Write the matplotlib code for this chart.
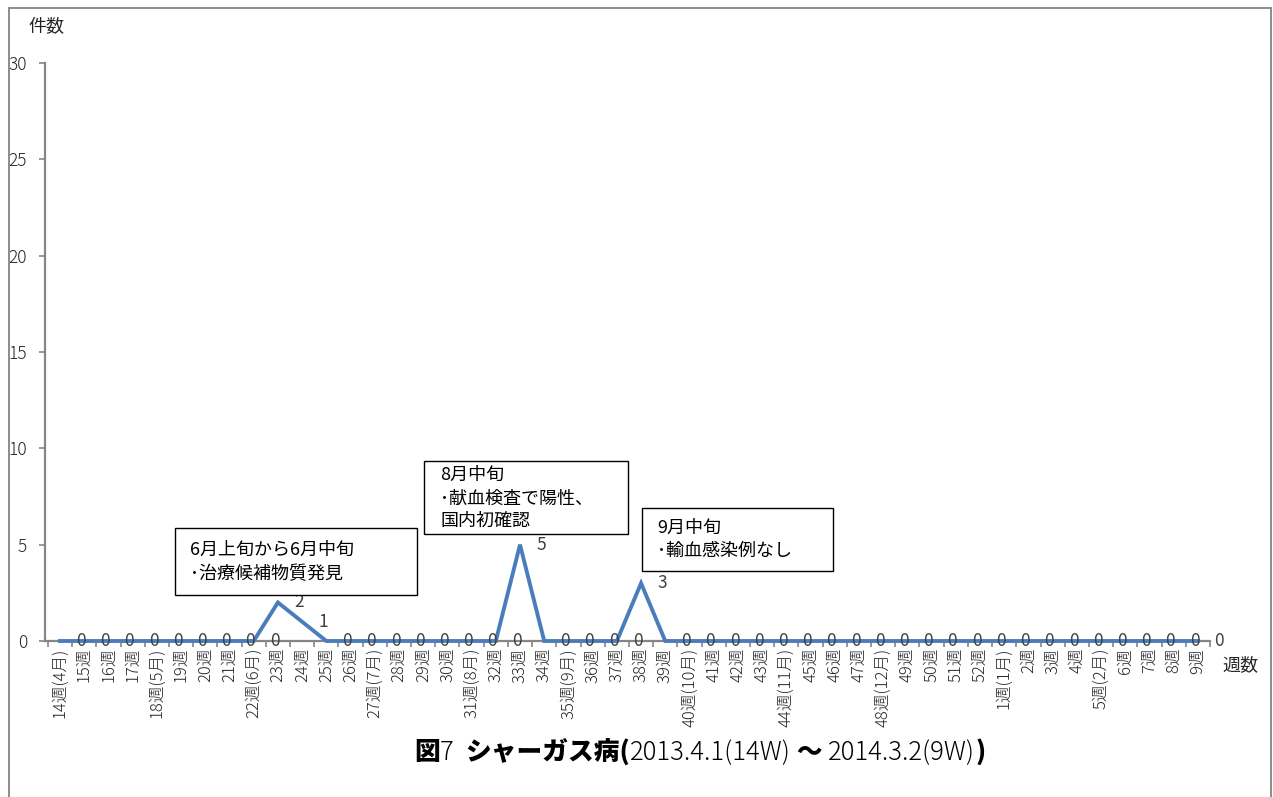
import matplotlib
matplotlib.use("Agg")
import matplotlib.pyplot as plt
from matplotlib.patches import Rectangle
from matplotlib.lines import Line2D
from matplotlib.offsetbox import TextArea, HPacker, AnnotationBbox

plt.rcParams['font.family'] = ['Noto Sans CJK JP', 'DejaVu Sans']

# Weekly counts, 2013 week 14 through 2014 week 9
weeks = ["14週(4月)", "15週", "16週", "17週", "18週(5月)", "19週", "20週", "21週",
         "22週(6月)", "23週", "24週", "25週", "26週", "27週(7月)", "28週", "29週",
         "30週", "31週(8月)", "32週", "33週", "34週", "35週(9月)", "36週", "37週",
         "38週", "39週", "40週(10月)", "41週", "42週", "43週", "44週(11月)", "45週",
         "46週", "47週", "48週(12月)", "49週", "50週", "51週", "52週", "1週(1月)",
         "2週", "3週", "4週", "5週(2月)", "6週", "7週", "8週", "9週"]
counts = [0, 0, 0, 0, 0, 0, 0, 0,
          0, 2, 1, 0, 0, 0, 0, 0,
          0, 0, 0, 5, 0, 0, 0, 0,
          3, 0, 0, 0, 0, 0, 0, 0,
          0, 0, 0, 0, 0, 0, 0, 0,
          0, 0, 0, 0, 0, 0, 0, 0]
y_ticks = [0, 5, 10, 15, 20, 25, 30]

notes = [
    ["6月上旬から6月中旬", "･治療候補物質発見"],
    ["8月中旬", "･献血検査で陽性、", "国内初確認"],
    ["9月中旬", "･輸血感染例なし"],
]

W, H = 1273, 797
fig = plt.figure(figsize=(W / 100, H / 100), dpi=100)
fig.patch.set_facecolor("white")


def fx(px):
    return px / W


def fy(py):
    return 1 - py / H


GRAY = "#8c8c8c"
TXT = "#262626"

# outer frame (left, top, right)
for xs, ys in [([9, 9], [8, H + 5]), ([9, 1271], [8, 8]), ([1271, 1271], [8, H + 5])]:
    fig.add_artist(Line2D([fx(x) for x in xs], [fy(y) for y in ys],
                          color=GRAY, lw=1.4, transform=fig.transFigure))

ax = fig.add_axes([fx(45), fy(641), fx(1210) - fx(45), fy(63) - fy(641)])
n = len(weeks)
x = list(range(n))
ax.plot(x, counts, color="#4a7ebb", lw=2.8, solid_joinstyle="miter", zorder=3, clip_on=False)

ax.set_xlim(-0.62, n - 0.5)
ax.set_ylim(0, 30)
for s in ["top", "right"]:
    ax.spines[s].set_visible(False)
for s in ["left", "bottom"]:
    ax.spines[s].set_color("#868686")
    ax.spines[s].set_linewidth(1.6)

ax.set_yticks(y_ticks)
ax.set_yticklabels([str(v) for v in y_ticks], fontsize=12.5, color=TXT, fontweight="light")
ax.tick_params(axis="y", direction="out", length=4, width=1.2, color="#868686", pad=9)

ax.set_xticks(x)
ax.set_xticklabels(weeks, rotation=90, fontsize=12, color=TXT, va="top", ha="center",
                   fontweight="light")
ax.tick_params(axis="x", which="major", length=0, pad=5)
ax.set_xticks([i + 0.5 for i in range(-1, n)], minor=True)
ax.tick_params(axis="x", which="minor", direction="out", length=4, width=1.2, color="#868686")

# value labels beside each point
for xi, v in zip(x, counts):
    ax.annotate(str(v), (xi, v), xytext=(15, 0), textcoords="offset points",
                ha="center", va="center", fontsize=12.5, color="#404040",
                annotation_clip=False, zorder=4)

# axis captions
fig.text(fx(46), fy(27), "件数", ha="center", va="center", fontsize=13, color=TXT)
fig.text(fx(1240), fy(665), "週数", ha="center", va="center", fontsize=13, color=TXT)

# note boxes
boxes = [
    ((175, 528, 417, 595), 190, [550, 574]),
    ((424, 461, 628, 534), 440, [475, 499, 521]),
    ((642, 508, 833, 571), 657, [528, 551]),
]
for (rect, tx, lys), lines in zip(boxes, notes):
    x0, y0, x1, y1 = rect
    fig.add_artist(Rectangle((fx(x0), fy(y1)), fx(x1) - fx(x0), fy(y0) - fy(y1),
                             facecolor="white", edgecolor="black", lw=1.0,
                             transform=fig.transFigure, zorder=5))
    for ly, line in zip(lys, lines):
        fig.text(fx(tx), fy(ly), line, ha="left", va="center", fontsize=13,
                 color="black", zorder=6)

# title with mixed weights
parts = [("図", "heavy"), ("7  ", "light"), ("シャーガス病(", "heavy"),
         ("2013.4.1(14W)", "light"), (" ～ ", "heavy"), ("2014.3.2(9W)", "light"),
         (")", "heavy")]
areas = [TextArea(t, textprops=dict(fontsize=18.5, fontweight=w, color="black"))
         for t, w in parts]
pack = HPacker(children=areas, align="baseline", pad=0, sep=0)
ab = AnnotationBbox(pack, (fx(700), fy(752)), xycoords="figure fraction",
                    frameon=False, box_alignment=(0.5, 0.5))
fig.add_artist(ab)

fig.savefig("out.png", dpi=100, facecolor="white")
